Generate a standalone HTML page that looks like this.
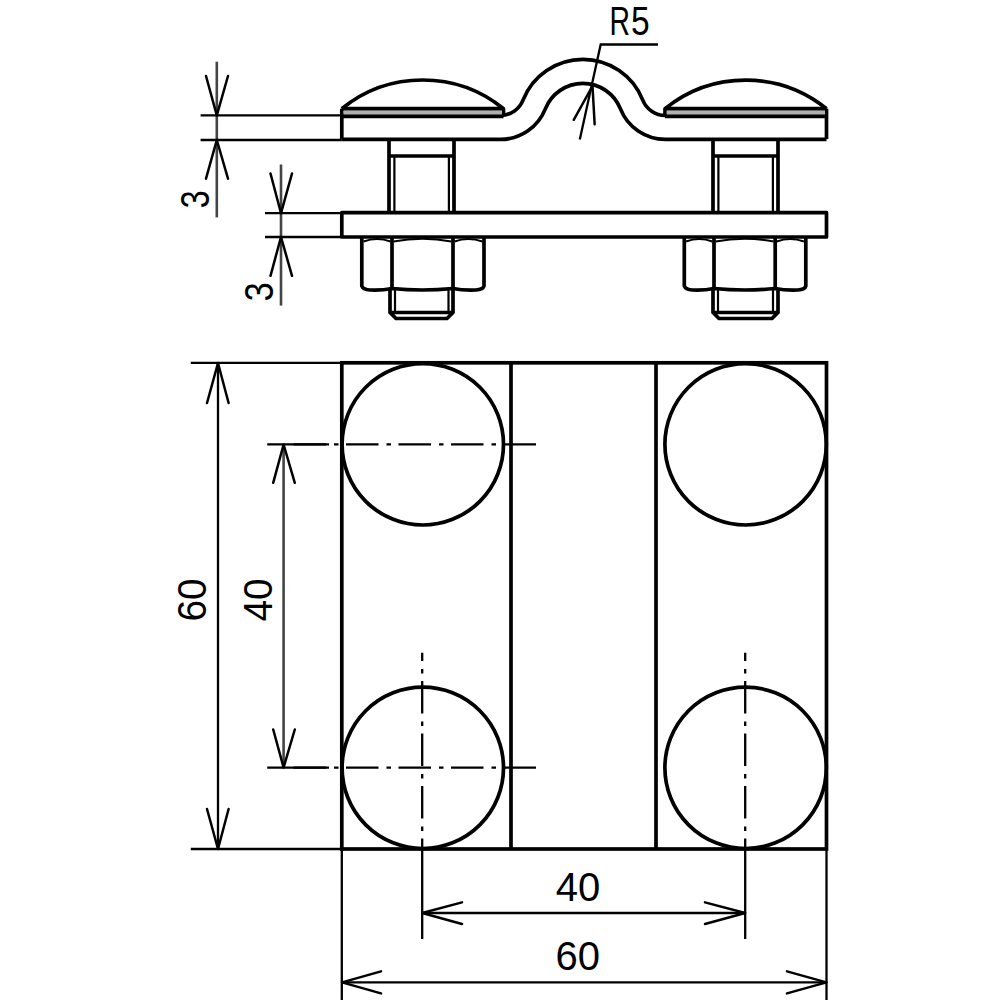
<!DOCTYPE html>
<html><head><meta charset="utf-8">
<style>
html,body{margin:0;padding:0;background:#fff;width:1000px;height:1000px;overflow:hidden}
svg{display:block}
text{font-family:"Liberation Sans",sans-serif;font-size:40px;fill:#000}
</style></head><body>
<svg width="1000" height="1000" viewBox="0 0 1000 1000">
<rect width="1000" height="1000" fill="#fff"/>

<!-- ============ SIDE VIEW ============ -->
<g fill="none" stroke="#000" stroke-width="3.7" stroke-linejoin="round">
  <!-- top strap -->
  <path d="M341.8 115.4 H500.5 A24.2 24.2 0 0 0 523.01 100.09 A64.4 64.4 0 0 1 642.79 100.09 A24.2 24.2 0 0 0 665.3 115.4 H826.5"/>
  <path d="M341.8 139.4 H500.5 A48.2 48.2 0 0 0 545.33 108.91 A40.4 40.4 0 0 1 620.47 108.91 A48.2 48.2 0 0 0 665.3 139.4 H826.5"/>
  <path d="M341.8 108.7 V139.1"/>
  <path d="M826.5 108.7 V139.1"/>
  <!-- left head -->
  <path d="M341.8 108.7 A128.2 128.2 0 0 1 503.5 108.7 V116.2"/>
  <path d="M341.8 108.9 H503.5 M341.8 116.2 H503.5" stroke-width="4.2"/>
  <!-- right head -->
  <path d="M665 116.2 V108.7 A128.2 128.2 0 0 1 826.5 108.7"/>
  <path d="M665 108.9 H826.5 M665 116.2 H826.5" stroke-width="4.2"/>
  <!-- lower plate -->
  <rect x="341.8" y="212.6" width="484.7" height="24.4"/>
  <!-- left bolt neck -->
  <path d="M389 139.1 V212.6 M454 139.1 V212.6 M389 156 H454"/>
  <!-- right bolt neck -->
  <path d="M713 139.1 V212.6 M778 139.1 V212.6 M713 156 H778"/>
  <!-- left nut -->
  <path d="M361.8 237 V286 Q363 289.5 370 290 Q382 290.5 392 288.5 Q422 291.5 453 288.5 Q463 290.5 476 290 Q483 289.5 484 286 V237"/>
  <path d="M392 237 V288.5 M453 237 V288.5"/>
  <path d="M363.5 241.5 Q377 236.5 390.5 241.5 M393.5 241.5 Q422.5 236 451.5 241.5 M454.5 241.5 Q468 236.5 482.5 241.5" stroke-width="2.2"/>
  <!-- right nut -->
  <path d="M684.3 237 V286 Q685.5 289.5 692.5 290 Q704 290.5 714 288.5 Q745 291.5 775.2 288.5 Q785 290.5 798 290 Q805 289.5 805.8 286 V237"/>
  <path d="M714 237 V288.5 M775.2 237 V288.5"/>
  <path d="M686 241.5 Q699 236.5 712.5 241.5 M715.5 241.5 Q744.6 236 773.7 241.5 M776.7 241.5 Q790 236.5 804 241.5" stroke-width="2.2"/>
  <!-- left bolt end -->
  <path d="M390 290 V312.5 L396 318.5 H447 L453 312.5 V290 M390 312.5 H453"/>
  <!-- right bolt end -->
  <path d="M713 290 V312.5 L719 318.5 H772 L778 312.5 V290 M713 312.5 H778"/>
</g>
<!-- thread lines (thin) -->
<g fill="none" stroke="#000" stroke-width="2.2">
  <path d="M394.4 156 V212.6 M448.9 156 V212.6"/>
  <path d="M718.4 156 V212.6 M772.9 156 V212.6"/>
  <path d="M395 290 V312.5 M448.5 290 V312.5"/>
  <path d="M718 290 V312.5 M773 290 V312.5"/>
</g>
<!-- head band grey -->
<g fill="#b0b0b0" stroke="none">
  <rect x="343.5" y="110.4" width="158.5" height="4.1"/>
  <rect x="666.7" y="110.4" width="158.3" height="4.1"/>
</g>

<!-- side view dimensions -->
<g fill="none" stroke="#444" stroke-width="2.6">
  <path d="M216.8 61.7 V217.4"/>
  <path d="M281 164.5 V305.6"/>
  <path d="M283.6 444.3 V767.7"/>
</g>
<g fill="none" stroke="#000" stroke-width="2.3">
  <path d="M200.6 115.3 H341.8 M200.6 140 H341.8"/>
  <path d="M265 213.2 H341.8 M265 237 H341.8"/>
  <!-- R5 leader -->
  <path d="M658 44.5 H600.7 L579.8 139.6"/>
</g>
<g fill="none" stroke="#000" stroke-width="2.5" stroke-linecap="round" stroke-linejoin="round">
  <path d="M206 76 L216.8 115.3 L228 76"/>
  <path d="M206 178.7 L216.8 140 L228 178.7"/>
  <path d="M270.5 173.5 L281 213.2 L292 173.5"/>
  <path d="M270.5 275.8 L281 237 L292 275.8"/>
  <path d="M573.75 119.8 L592.5 86 L594.65 124.2"/>
</g>
<text transform="translate(609.6,35) scale(0.71,1)">R</text>
<text transform="translate(631,35) scale(0.84,1)">5</text>
<text transform="translate(208.7,208.2) rotate(-90) scale(0.8,1)">3</text>
<text transform="translate(273.4,301.3) rotate(-90) scale(0.85,1)">3</text>

<!-- ============ PLAN VIEW ============ -->
<g fill="none" stroke="#000" stroke-width="3.7">
  <rect x="341.8" y="362.8" width="484.7" height="486.2"/>
  <path d="M511 362.8 V849 M656 362.8 V849"/>
  <circle cx="422.8" cy="444.3" r="80.7"/>
  <circle cx="745.6" cy="444.3" r="80.7"/>
  <circle cx="422.8" cy="767.8" r="80.7"/>
  <circle cx="745.6" cy="767.8" r="80.7"/>
</g>
<!-- centre lines -->
<g fill="none" stroke="#000" stroke-width="2.3">
  <path d="M293.5 444.3 H536" stroke-dasharray="32.5 8 4.5 7.5"/>
  <path d="M293.5 767.7 H536" stroke-dasharray="32.5 8 4.5 7.5"/>
  <path d="M422.2 652.7 V849" stroke-dasharray="32.5 8 4.5 7.5" stroke-dashoffset="24.2"/>
  <path d="M745.2 652.7 V849" stroke-dasharray="32.5 8 4.5 7.5" stroke-dashoffset="24.2"/>
  <!-- extension lines -->
  <path d="M267.2 444.3 H329 M267.2 767.7 H329"/>
  <path d="M190.8 362.8 H341.8 M190.8 849 H341.8"/>
  <path d="M218 362.8 V849"/>
  <path d="M341.8 849 V1000 M826.5 849 V1000"/>
  <path d="M422.2 849 V939 M745.2 849 V939"/>
  <path d="M422.2 913 H745.2"/>
  <path d="M341.8 982.4 H826.5"/>
</g>
<g fill="none" stroke="#000" stroke-width="2.5" stroke-linecap="round" stroke-linejoin="round">
  <path d="M207 403 L218 363 L228.6 403"/>
  <path d="M207 809 L218 849 L228.6 809"/>
  <path d="M273.2 482.8 L283.6 444.5 L294.8 482.8"/>
  <path d="M273.2 729.5 L283.6 767.5 L294.8 729.5"/>
  <path d="M462 902.4 L422.2 913 L462 924"/>
  <path d="M705 902.4 L745.2 913 L705 924"/>
  <path d="M381 971.4 L342 982.4 L381 993.4"/>
  <path d="M787 971.4 L826.5 982.4 L787 993.4"/>
</g>
<text transform="translate(206,621.5) rotate(-90) scale(0.97,1)">60</text>
<text transform="translate(272,621.5) rotate(-90) scale(0.97,1)">40</text>
<text x="555.8" y="901.4">40</text>
<text x="555.4" y="970.4">60</text>
</svg>
</body></html>
